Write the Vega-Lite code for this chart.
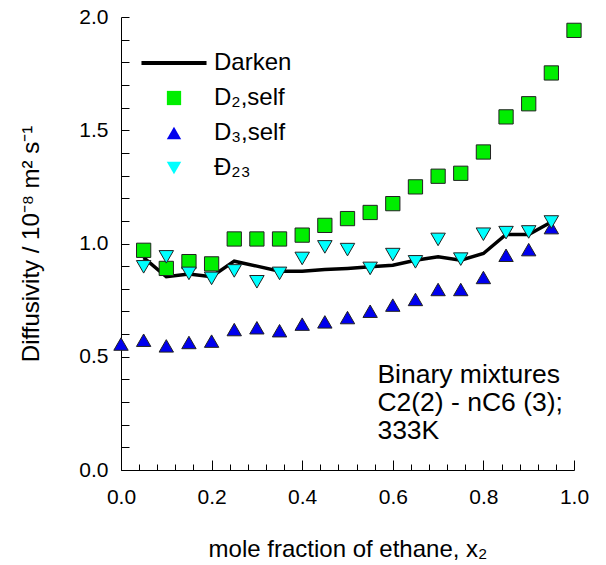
{
  "$schema": "https://vega.github.io/schema/vega-lite/v6.json",
  "width": 453,
  "height": 453,
  "autosize": "none",
  "padding": {"left": 121, "top": 17, "right": 32, "bottom": 95},
  "config": {
    "font": "Liberation Sans",
    "view": {"stroke": null},
    "axis": {"grid": false, "domainColor": "#000", "tickColor": "#000", "labelColor": "#000", "titleColor": "#000", "labelFontSize": 21, "titleFontSize": 24, "titleFontWeight": "normal", "domainWidth": 1, "tickWidth": 1, "labelOverlap": false, "labelFlush": false}
  },
  "data": {"values": [
    {"s": "Darken", "x": 0.05, "y": 0.938}, {"s": "Darken", "x": 0.1, "y": 0.853}, {"s": "Darken", "x": 0.15, "y": 0.865}, {"s": "Darken", "x": 0.2, "y": 0.853}, {"s": "Darken", "x": 0.25, "y": 0.922}, {"s": "Darken", "x": 0.3, "y": 0.9}, {"s": "Darken", "x": 0.35, "y": 0.878}, {"s": "Darken", "x": 0.4, "y": 0.878}, {"s": "Darken", "x": 0.45, "y": 0.885}, {"s": "Darken", "x": 0.5, "y": 0.89}, {"s": "Darken", "x": 0.55, "y": 0.897}, {"s": "Darken", "x": 0.6, "y": 0.904}, {"s": "Darken", "x": 0.65, "y": 0.926}, {"s": "Darken", "x": 0.7, "y": 0.941}, {"s": "Darken", "x": 0.75, "y": 0.926}, {"s": "Darken", "x": 0.8, "y": 0.956}, {"s": "Darken", "x": 0.85, "y": 1.04}, {"s": "Darken", "x": 0.9, "y": 1.04}, {"s": "Darken", "x": 0.95, "y": 1.095},
    {"s": "D₂,self", "x": 0.05, "y": 0.97}, {"s": "D₂,self", "x": 0.1, "y": 0.89}, {"s": "D₂,self", "x": 0.15, "y": 0.92}, {"s": "D₂,self", "x": 0.2, "y": 0.91}, {"s": "D₂,self", "x": 0.25, "y": 1.02}, {"s": "D₂,self", "x": 0.3, "y": 1.02}, {"s": "D₂,self", "x": 0.35, "y": 1.02}, {"s": "D₂,self", "x": 0.4, "y": 1.037}, {"s": "D₂,self", "x": 0.45, "y": 1.08}, {"s": "D₂,self", "x": 0.5, "y": 1.11}, {"s": "D₂,self", "x": 0.55, "y": 1.137}, {"s": "D₂,self", "x": 0.6, "y": 1.176}, {"s": "D₂,self", "x": 0.65, "y": 1.25}, {"s": "D₂,self", "x": 0.7, "y": 1.297}, {"s": "D₂,self", "x": 0.75, "y": 1.31}, {"s": "D₂,self", "x": 0.8, "y": 1.404}, {"s": "D₂,self", "x": 0.85, "y": 1.559}, {"s": "D₂,self", "x": 0.9, "y": 1.617}, {"s": "D₂,self", "x": 0.95, "y": 1.753}, {"s": "D₂,self", "x": 1.0, "y": 1.941},
    {"s": "D₃,self", "x": 0.0, "y": 0.556}, {"s": "D₃,self", "x": 0.05, "y": 0.573}, {"s": "D₃,self", "x": 0.1, "y": 0.548}, {"s": "D₃,self", "x": 0.15, "y": 0.563}, {"s": "D₃,self", "x": 0.2, "y": 0.569}, {"s": "D₃,self", "x": 0.25, "y": 0.62}, {"s": "D₃,self", "x": 0.3, "y": 0.628}, {"s": "D₃,self", "x": 0.35, "y": 0.615}, {"s": "D₃,self", "x": 0.4, "y": 0.644}, {"s": "D₃,self", "x": 0.45, "y": 0.654}, {"s": "D₃,self", "x": 0.5, "y": 0.673}, {"s": "D₃,self", "x": 0.55, "y": 0.701}, {"s": "D₃,self", "x": 0.6, "y": 0.728}, {"s": "D₃,self", "x": 0.65, "y": 0.753}, {"s": "D₃,self", "x": 0.7, "y": 0.797}, {"s": "D₃,self", "x": 0.75, "y": 0.797}, {"s": "D₃,self", "x": 0.8, "y": 0.85}, {"s": "D₃,self", "x": 0.85, "y": 0.948}, {"s": "D₃,self", "x": 0.9, "y": 0.973}, {"s": "D₃,self", "x": 0.95, "y": 1.07},
    {"s": "Đ₂₃", "x": 0.05, "y": 0.897}, {"s": "Đ₂₃", "x": 0.1, "y": 0.941}, {"s": "Đ₂₃", "x": 0.15, "y": 0.868}, {"s": "Đ₂₃", "x": 0.2, "y": 0.846}, {"s": "Đ₂₃", "x": 0.25, "y": 0.879}, {"s": "Đ₂₃", "x": 0.3, "y": 0.831}, {"s": "Đ₂₃", "x": 0.35, "y": 0.868}, {"s": "Đ₂₃", "x": 0.4, "y": 0.934}, {"s": "Đ₂₃", "x": 0.45, "y": 0.985}, {"s": "Đ₂₃", "x": 0.5, "y": 0.973}, {"s": "Đ₂₃", "x": 0.55, "y": 0.89}, {"s": "Đ₂₃", "x": 0.6, "y": 0.951}, {"s": "Đ₂₃", "x": 0.65, "y": 0.919}, {"s": "Đ₂₃", "x": 0.7, "y": 1.018}, {"s": "Đ₂₃", "x": 0.75, "y": 0.931}, {"s": "Đ₂₃", "x": 0.8, "y": 1.041}, {"s": "Đ₂₃", "x": 0.85, "y": 1.048}, {"s": "Đ₂₃", "x": 0.9, "y": 1.051}, {"s": "Đ₂₃", "x": 0.95, "y": 1.095}
  ]},
  "layer": [
    {
      "transform": [{"filter": "datum.s === 'Darken'"}],
      "mark": {"type": "line", "color": "#000", "strokeWidth": 3.5},
      "encoding": {
        "x": {"field": "x", "type": "quantitative",
          "scale": {"domain": [0, 1], "nice": false, "zero": false},
          "axis": {
            "title": "mole fraction of ethane, x₂",
            "values": [0,0.04,0.08,0.12,0.16,0.2,0.24,0.28,0.32,0.36,0.4,0.44,0.48,0.52,0.56,0.6,0.64,0.68,0.72,0.76,0.8,0.84,0.88,0.92,0.96,1],
            "labelExpr": "abs(datum.value*5 - round(datum.value*5)) < 0.000001 ? format(datum.value, '.1f') : ''",
            "tickSize": {"condition": {"test": "abs(datum.value*5 - round(datum.value*5)) < 0.000001", "value": -10}, "value": -6},
            "labelPadding": 26,
            "labelOverlap": false,
            "labelFlush": false,
            "titlePadding": 26
          }
        },
        "y": {"field": "y", "type": "quantitative",
          "scale": {"domain": [0, 2], "nice": false, "zero": false},
          "axis": {
            "title": "Diffusivity / 10⁻⁸ m² s⁻¹",
            "values": [0,0.1,0.2,0.3,0.4,0.5,0.6,0.7,0.8,0.9,1,1.1,1.2,1.3,1.4,1.5,1.6,1.7,1.8,1.9,2],
            "labelExpr": "abs(datum.value*2 - round(datum.value*2)) < 0.000001 ? format(datum.value, '.1f') : ''",
            "tickSize": -8,
            "labelPadding": 21,
            "labelOverlap": false,
            "labelFlush": false,
            "titlePadding": 35
          }
        }
      }
    },
    {
      "transform": [{"filter": "datum.s !== 'Darken'"}],
      "mark": {"type": "point", "filled": true, "stroke": "#222", "strokeWidth": 1, "opacity": 1},
      "encoding": {
        "x": {"field": "x", "type": "quantitative",
          "axis": {
            "title": "mole fraction of ethane, x₂",
            "values": [0,0.04,0.08,0.12,0.16,0.2,0.24,0.28,0.32,0.36,0.4,0.44,0.48,0.52,0.56,0.6,0.64,0.68,0.72,0.76,0.8,0.84,0.88,0.92,0.96,1],
            "labelExpr": "abs(datum.value*5 - round(datum.value*5)) < 0.000001 ? format(datum.value, '.1f') : ''",
            "tickSize": {"condition": {"test": "abs(datum.value*5 - round(datum.value*5)) < 0.000001", "value": -10}, "value": -6},
            "labelPadding": 26,
            "labelOverlap": false,
            "labelFlush": false,
            "titlePadding": 26
          }
        },
        "y": {"field": "y", "type": "quantitative",
          "axis": {
            "title": "Diffusivity / 10⁻⁸ m² s⁻¹",
            "values": [0,0.1,0.2,0.3,0.4,0.5,0.6,0.7,0.8,0.9,1,1.1,1.2,1.3,1.4,1.5,1.6,1.7,1.8,1.9,2],
            "labelExpr": "abs(datum.value*2 - round(datum.value*2)) < 0.000001 ? format(datum.value, '.1f') : ''",
            "tickSize": -8,
            "labelPadding": 21,
            "labelOverlap": false,
            "labelFlush": false,
            "titlePadding": 35
          }
        },
        "color": {"field": "s", "type": "nominal",
          "scale": {"domain": ["Darken", "D₂,self", "D₃,self", "Đ₂₃"], "range": ["#000000", "#00ee00", "#0000ee", "#00ffff"]},
          "legend": {"orient": "none", "legendX": 41, "legendY": 34, "title": null, "labelFontSize": 24, "labelColor": "#000", "symbolSize": 210, "rowPadding": 11, "labelOffset": 28, "symbolStrokeColor": "#222", "symbolStrokeWidth": 1, "symbolOpacity": 1}
        },
        "shape": {"field": "s", "type": "nominal",
          "scale": {"domain": ["Darken", "D₂,self", "D₃,self", "Đ₂₃"], "range": ["M-4.6,-0.28H4.6V0.28H-4.6Z", "square", "triangle-up", "triangle-down"]},
          "legend": {"orient": "none", "legendX": 41, "legendY": 34, "title": null, "labelFontSize": 24, "labelColor": "#000", "symbolSize": 210, "rowPadding": 11, "labelOffset": 28, "symbolStrokeColor": "#222", "symbolStrokeWidth": 1, "symbolOpacity": 1}
        },
        "size": {"field": "s", "type": "nominal",
          "scale": {"domain": ["Darken", "D₂,self", "D₃,self", "Đ₂₃"], "range": [200, 210, 256, 256]},
          "legend": null
        }
      }
    },
    {
      "data": {"values": [{"note": "Binary mixtures\nC2(2) - nC6 (3);\n333K"}]},
      "mark": {"type": "text", "align": "left", "baseline": "alphabetic", "fontSize": 26.5, "lineHeight": 28, "lineBreak": "\n", "color": "#000"},
      "encoding": {
        "x": {"datum": 0.566, "type": "quantitative",
          "axis": {
            "title": "mole fraction of ethane, x₂",
            "values": [0,0.04,0.08,0.12,0.16,0.2,0.24,0.28,0.32,0.36,0.4,0.44,0.48,0.52,0.56,0.6,0.64,0.68,0.72,0.76,0.8,0.84,0.88,0.92,0.96,1],
            "labelExpr": "abs(datum.value*5 - round(datum.value*5)) < 0.000001 ? format(datum.value, '.1f') : ''",
            "tickSize": {"condition": {"test": "abs(datum.value*5 - round(datum.value*5)) < 0.000001", "value": -10}, "value": -6},
            "labelPadding": 26,
            "labelOverlap": false,
            "labelFlush": false,
            "titlePadding": 26
          }
        },
        "y": {"datum": 0.386, "type": "quantitative",
          "axis": {
            "title": "Diffusivity / 10⁻⁸ m² s⁻¹",
            "values": [0,0.1,0.2,0.3,0.4,0.5,0.6,0.7,0.8,0.9,1,1.1,1.2,1.3,1.4,1.5,1.6,1.7,1.8,1.9,2],
            "labelExpr": "abs(datum.value*2 - round(datum.value*2)) < 0.000001 ? format(datum.value, '.1f') : ''",
            "tickSize": -8,
            "labelPadding": 21,
            "labelOverlap": false,
            "labelFlush": false,
            "titlePadding": 35
          }
        },
        "text": {"field": "note", "type": "nominal"}
      }
    }
  ]
}
